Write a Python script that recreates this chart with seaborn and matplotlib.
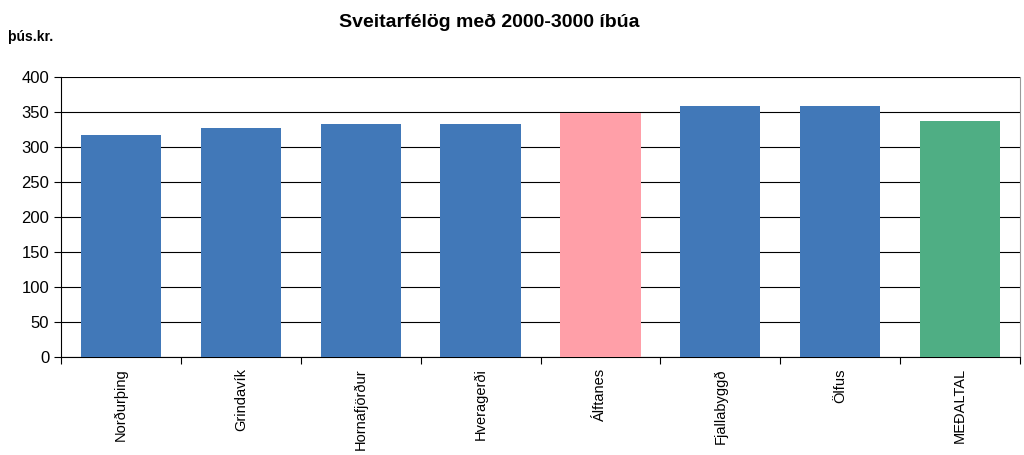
import pandas as pd
import seaborn as sns
from matplotlib import pyplot as plt

#Data
sveitarfelog = ['Norðurþing', 'Grindavík', 'Hornafjörður', 'Hveragerði', 'Álftanes',
                'Fjallabyggð', 'Ölfus', 'MEÐALTAL']
upphaed = [317, 327, 333, 333, 349, 358, 358, 337]
flokkur = ['venjulegt', 'venjulegt', 'venjulegt', 'venjulegt', 'alftanes',
           'venjulegt', 'venjulegt', 'medaltal']
litir = {'venjulegt': '#4178B8', 'alftanes': '#FF9FA8', 'medaltal': '#4FAE84'}

df = pd.DataFrame({'Sveitarfélag': sveitarfelog, 'Upphæð': upphaed, 'Flokkur': flokkur})

#Visualization
sns.set_style('white')
plt.rcParams['font.family'] = ['Liberation Sans', 'DejaVu Sans']
plt.rcParams['text.color'] = 'black'
plt.rcParams['xtick.color'] = 'black'
plt.rcParams['ytick.color'] = 'black'

fig = plt.figure(figsize=(10.24, 4.55), dpi=100)
ax = fig.add_axes([0.0596, 0.2154, 0.9365, 0.6154])
sns.barplot(data=df, x='Sveitarfélag', y='Upphæð', hue='Flokkur', palette=litir,
            dodge=False, width=0.67, legend=False, saturation=1, linewidth=0,
            ax=ax, zorder=3)

ax.set_ylim(0, 400)
ax.set_xlim(-0.5, len(sveitarfelog) - 0.5)
ax.set_yticks(range(0, 401, 50))
ax.yaxis.grid(True, color='black', linewidth=0.8, zorder=0)
ax.set_axisbelow(True)

# ticks between categories, labels centered under bars
ax.set_xticks([i + 0.5 for i in range(-1, len(sveitarfelog))], minor=False)
ax.set_xticklabels([])
ax.set_xticks(range(len(sveitarfelog)), minor=True)
ax.set_xticklabels(sveitarfelog, minor=True, rotation=90, fontsize=10.5)
ax.tick_params(axis='x', which='minor', length=0, pad=8)
ax.tick_params(axis='x', which='major', length=5, width=0.8, color='black', direction='out', bottom=True)
ax.tick_params(axis='y', length=5, width=0.8, color='black', direction='out', left=True, labelsize=12)

ax.set_xlabel('')
ax.set_ylabel('')
for s in ['left', 'bottom']:
    ax.spines[s].set_color('black')
    ax.spines[s].set_linewidth(0.8)
ax.spines['top'].set_visible(False)
ax.spines['right'].set_color('#999999')
ax.spines['right'].set_linewidth(0.8)

fig.text(0.478, 0.95, 'Sveitarfélög með 2000-3000 íbúa', ha='center', va='center',
         fontsize=14, fontweight='bold')
fig.text(0.008, 0.918, 'þús.kr.', ha='left', va='center', fontsize=10, fontweight='bold')

plt.savefig('out.png', dpi=100)
